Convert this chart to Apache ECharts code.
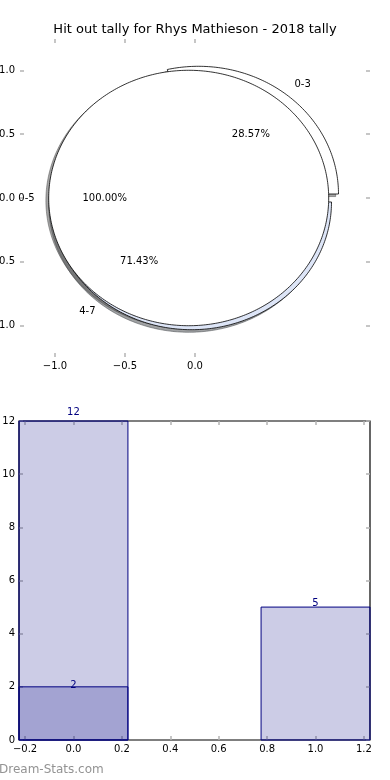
<!DOCTYPE html>
<html><head><meta charset="utf-8">
<script src="https://cdn.jsdelivr.net/npm/echarts@6/dist/echarts.min.js"></script>
<style>html,body{margin:0;padding:0;background:#fff}#c{width:390px;height:780px}</style>
</head><body><div id="c"></div>
<script>
// ---------------- data ----------------
const titleText = 'Hit out tally for Rhys Mathieson - 2018 tally';
const pieLabels = ['0-3', '4-7'];
const pieValues = [2, 5];
const fullPieLabels = ['0-5'];
const fullPieValues = [7];
const pieYTicks = [-1.0, -0.5, 0.0, 0.5, 1.0];
const pieXTicks = [-1.0, -0.5, 0.0];
const barCategories = [0, 1];
const barTotals = [12, 5];
const barSubset = [2, null];
const barXTicks = [-0.2, 0.0, 0.2, 0.4, 0.6, 0.8, 1.0, 1.2];
const barYTicks = [0, 2, 4, 6, 8, 10, 12];
const watermarkText = 'Dream-Stats.com';

// ---------------- layout / style ----------------
const FONT = '"DejaVu Sans", sans-serif';
const TICK_COLOR = '#b4b4b4';
const NAVY = '#000080';
const BAR_FILL = 'rgba(0,0,128,0.2)';
const BAR_W = 0.45;
const SHADOW_OFF = [-0.02, -0.02];
const LABEL_R = 1.1, PCT_R = 0.6;

function buildWedges(labels, values, explode, faces) {
  const total = values.reduce((a, b) => a + b, 0);
  let a = 0;
  return values.map((v, i) => {
    const span = v / total * 360;
    const mid = (a + span / 2) * Math.PI / 180;
    const w = {
      label: labels[i], pct: (v / total * 100).toFixed(2) + '%',
      a0: a, a1: a + span, mid: mid,
      c: [explode * Math.cos(mid), explode * Math.sin(mid)],
      face: faces[i], full: Math.abs(span - 360) < 1e-9
    };
    a += span;
    return w;
  });
}
const wedges = buildWedges(pieLabels, pieValues, 0.04, ['#ffffff', '#dde5f7'])
  .concat(buildWedges(fullPieLabels, fullPieValues, 0.045, ['#ffffff']));

function wedgePoints(api, w, off) {
  const c = [w.c[0] + off[0], w.c[1] + off[1]];
  const pts = [];
  if (!w.full) pts.push(api.coord(c));
  const n = Math.max(2, Math.ceil(w.a1 - w.a0));
  for (let k = 0; k <= n; k++) {
    const t = (w.a0 + (w.a1 - w.a0) * k / n) * Math.PI / 180;
    pts.push(api.coord([c[0] + Math.cos(t), c[1] + Math.sin(t)]));
  }
  return pts;
}
function shade(hex) {
  const r = parseInt(hex.slice(1, 3), 16), g = parseInt(hex.slice(3, 5), 16), b = parseInt(hex.slice(5, 7), 16);
  return 'rgba(' + Math.round(r * 0.3) + ',' + Math.round(g * 0.3) + ',' + Math.round(b * 0.3) + ',0.5)';
}
const fmt1 = v => (v < 0 ? '\u2212' : '') + Math.abs(v).toFixed(1);

const tick = (vals) => ({ show: true, inside: true, length: 4, customValues: vals, lineStyle: { color: TICK_COLOR, width: 1.5 } });
const lbl = (vals, fmt, margin) => ({ show: true, customValues: vals, formatter: fmt, color: '#000', fontSize: 10, fontFamily: FONT, margin: margin });
const noLbl = { show: false };
const noLine = { show: false, onZero: false };

const chart = echarts.init(document.getElementById('c'), null, { renderer: 'canvas' });
const option = {
  animation: false,
  backgroundColor: '#ffffff',
  grid: [
    { left: 20, right: 20, top: 39, height: 318, show: false, containLabel: false, outerBoundsMode: 'none' },
    { left: 19, right: 20, top: 421, bottom: 40, show: true, borderColor: '#000', borderWidth: 1.2, backgroundColor: 'transparent', containLabel: false, outerBoundsMode: 'none' }
  ],
  xAxis: [
    { gridIndex: 0, type: 'value', min: -1.25, max: 1.25, position: 'bottom', axisLine: noLine, splitLine: { show: false }, axisTick: tick(pieXTicks), axisLabel: lbl(pieXTicks, fmt1, 4) },
    { gridIndex: 0, type: 'value', min: -1.25, max: 1.25, position: 'top', axisLine: noLine, splitLine: { show: false }, axisTick: tick(pieXTicks), axisLabel: noLbl },
    { gridIndex: 1, type: 'value', min: -0.225, max: 1.225, position: 'bottom', axisLine: noLine, splitLine: { show: false }, axisTick: tick(barXTicks), axisLabel: lbl(barXTicks, fmt1, 4) },
    { gridIndex: 1, type: 'value', min: -0.225, max: 1.225, position: 'top', axisLine: noLine, splitLine: { show: false }, axisTick: tick(barXTicks), axisLabel: noLbl }
  ],
  yAxis: [
    { gridIndex: 0, type: 'value', min: -1.245, max: 1.245, position: 'left', axisLine: noLine, splitLine: { show: false }, axisTick: tick(pieYTicks), axisLabel: lbl(pieYTicks, fmt1, 5) },
    { gridIndex: 0, type: 'value', min: -1.245, max: 1.245, position: 'right', axisLine: noLine, splitLine: { show: false }, axisTick: tick(pieYTicks), axisLabel: noLbl },
    { gridIndex: 1, type: 'value', min: 0, max: 12, position: 'left', axisLine: noLine, splitLine: { show: false }, axisTick: tick(barYTicks), axisLabel: lbl(barYTicks, v => String(v), 4) },
    { gridIndex: 1, type: 'value', min: 0, max: 12, position: 'right', axisLine: noLine, splitLine: { show: false }, axisTick: tick(barYTicks), axisLabel: noLbl }
  ],
  series: [
    {
      type: 'custom', name: 'shadows', xAxisIndex: 0, yAxisIndex: 0, z: 1, clip: false,
      data: wedges.map((w, i) => i),
      renderItem: (params, api) => {
        const w = wedges[params.dataIndex];
        const col = shade(w.face);
        return { type: 'polygon', shape: { points: wedgePoints(api, w, SHADOW_OFF) }, style: { fill: col, stroke: col, lineWidth: 1 } };
      }
    },
    {
      type: 'custom', name: 'wedges', xAxisIndex: 0, yAxisIndex: 0, z: 2, clip: false,
      data: wedges.map((w, i) => i),
      renderItem: (params, api) => {
        const w = wedges[params.dataIndex];
        return { type: 'polygon', shape: { points: wedgePoints(api, w, [0, 0]) }, style: { fill: w.face, stroke: '#000', lineWidth: 0.8 } };
      }
    },
    {
      type: 'custom', name: 'pieText', xAxisIndex: 0, yAxisIndex: 0, z: 3, clip: false,
      data: wedges.map((w, i) => i),
      renderItem: (params, api) => {
        const w = wedges[params.dataIndex];
        const lx = w.c[0] + LABEL_R * Math.cos(w.mid), ly = w.c[1] + LABEL_R * Math.sin(w.mid);
        const px = w.c[0] + PCT_R * Math.cos(w.mid), py = w.c[1] + PCT_R * Math.sin(w.mid);
        const p1 = api.coord([lx, ly]), p2 = api.coord([px, py]);
        const al = lx > 0 ? 'left' : 'right';
        return { type: 'group', children: [
          { type: 'text', x: p1[0], y: p1[1], style: { text: w.label, fill: '#000', font: '10px ' + FONT, align: al, textAlign: al, verticalAlign: 'middle', textVerticalAlign: 'middle' } },
          { type: 'text', x: p2[0], y: p2[1], style: { text: w.pct, fill: '#000', font: '10px ' + FONT, align: 'center', textAlign: 'center', verticalAlign: 'middle', textVerticalAlign: 'middle' } }
        ] };
      }
    },
    {
      type: 'custom', name: 'totals', xAxisIndex: 2, yAxisIndex: 2, z: 2, clip: false,
      data: barCategories.map((c, i) => [c, barTotals[i]]).filter(d => d[1] != null),
      encode: { x: 0, y: 1 },
      renderItem: barRender
    },
    {
      type: 'custom', name: 'subset', xAxisIndex: 2, yAxisIndex: 2, z: 3, clip: false,
      data: barCategories.map((c, i) => [c, barSubset[i]]).filter(d => d[1] != null),
      encode: { x: 0, y: 1 },
      renderItem: barRender
    }
  ],
  graphic: [
    { type: 'text', x: 195, y: 30, style: { text: titleText, fill: '#000', font: '13px ' + FONT, align: 'center', textAlign: 'center', verticalAlign: 'middle', textVerticalAlign: 'middle' } },
    { type: 'text', x: -1, y: 770, style: { text: watermarkText, fill: '#939393', font: '12px ' + FONT, align: 'left', textAlign: 'left', verticalAlign: 'middle', textVerticalAlign: 'middle' } }
  ]
};
function barRender(params, api) {
  const x = api.value(0), v = api.value(1);
  const p0 = api.coord([x - BAR_W / 2, v]);
  const p1 = api.coord([x + BAR_W / 2, 0]);
  const pt = api.coord([x, v * 1.028]);
  return { type: 'group', children: [
    { type: 'rect', shape: { x: p0[0], y: p0[1], width: p1[0] - p0[0], height: p1[1] - p0[1] }, style: { fill: BAR_FILL, stroke: NAVY, lineWidth: 1 } },
    { type: 'text', x: pt[0], y: pt[1], style: { text: String(v), fill: NAVY, font: '10px ' + FONT, align: 'center', textAlign: 'center', verticalAlign: 'middle', textVerticalAlign: 'middle' } }
  ] };
}
chart.setOption(option);
</script>
</body></html>
